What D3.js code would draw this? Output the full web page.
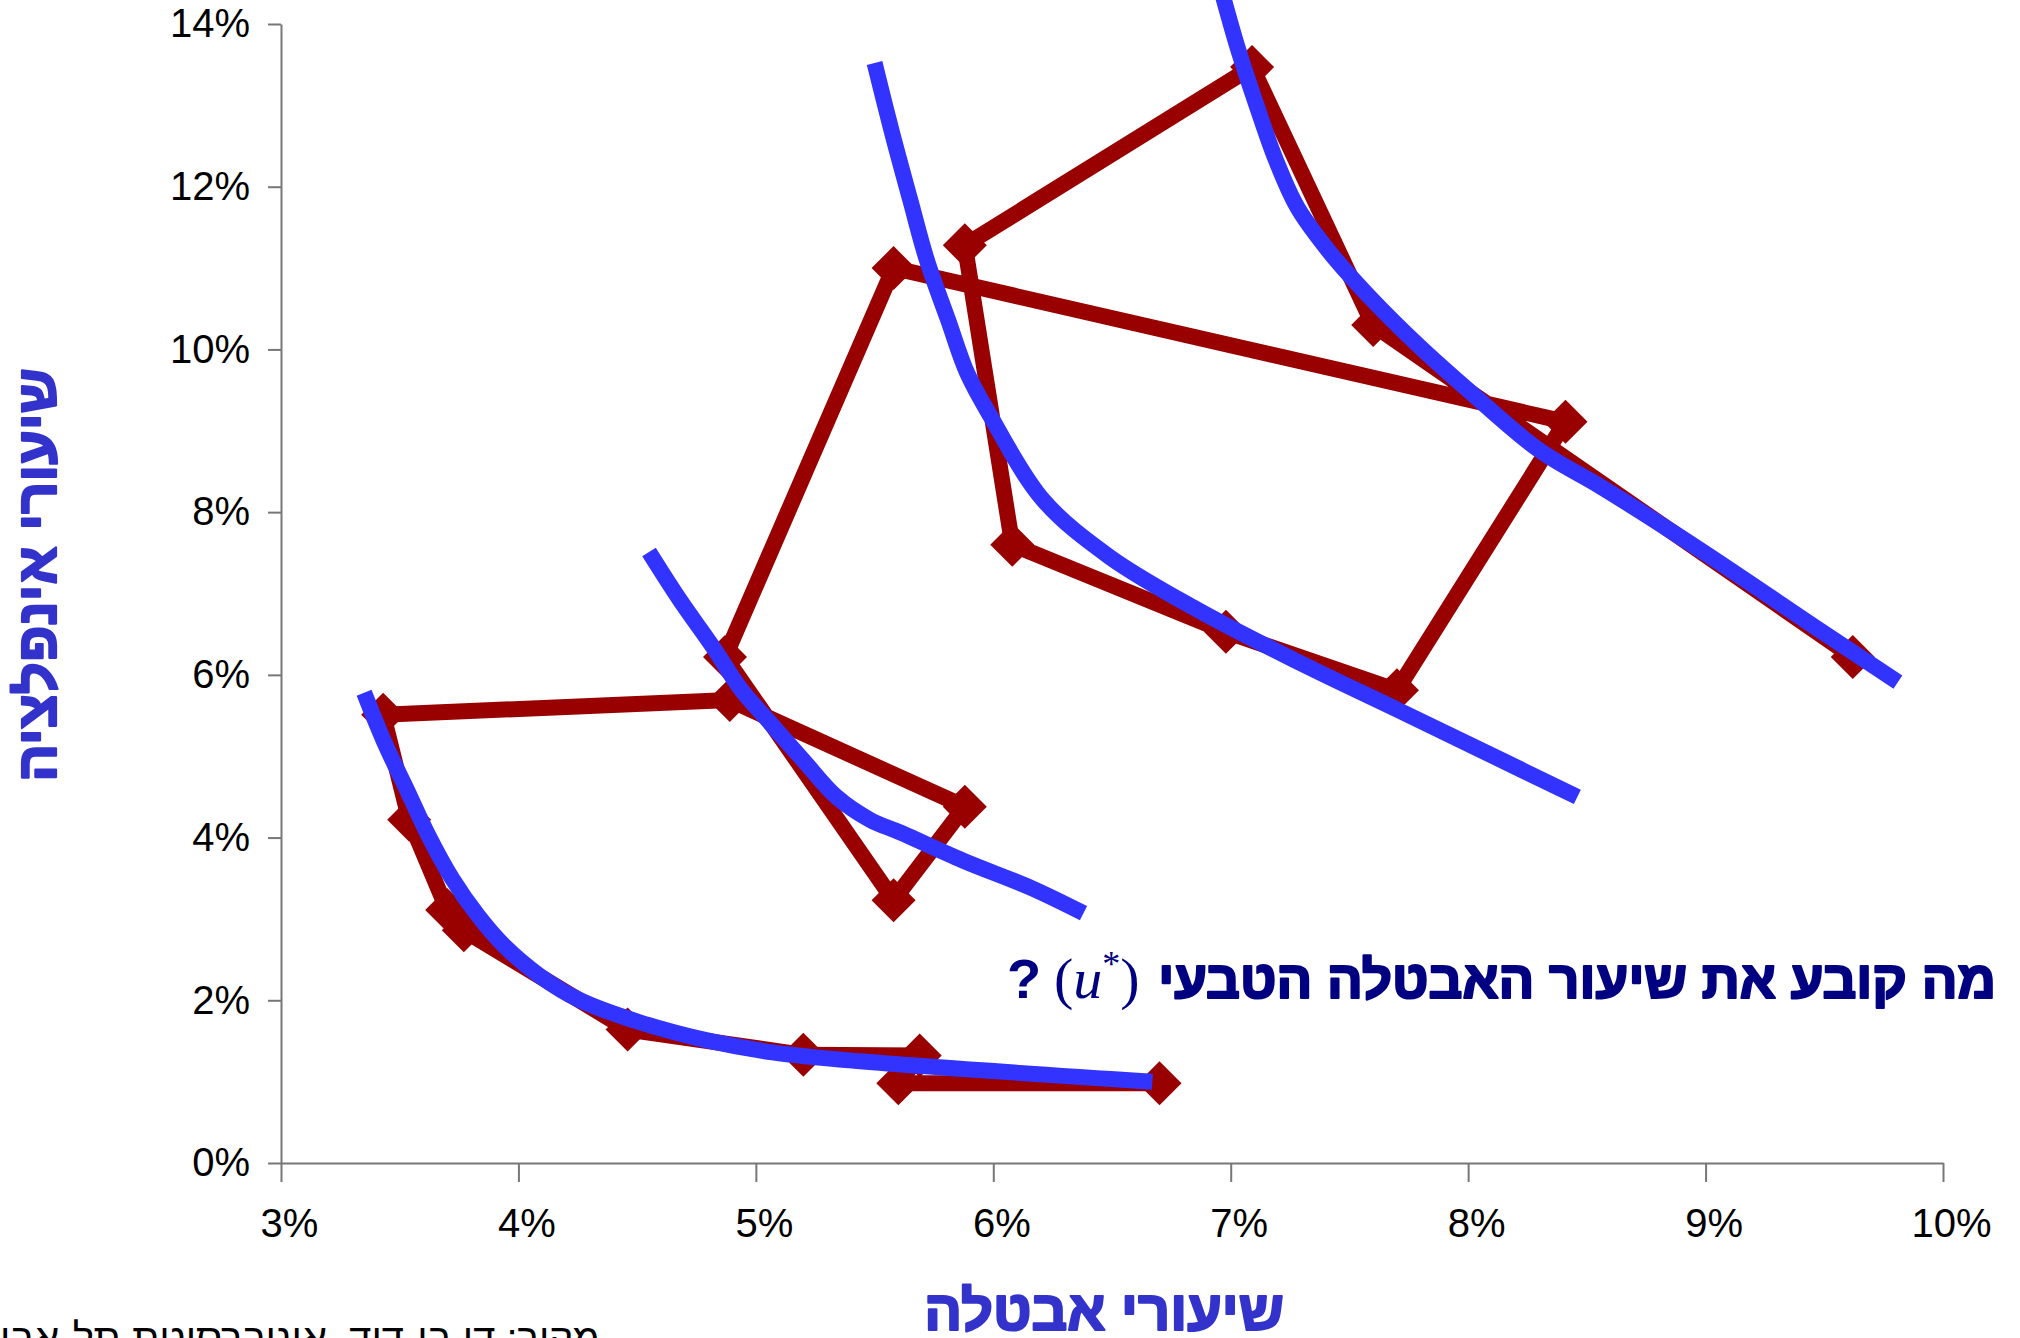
<!DOCTYPE html>
<html>
<head>
<meta charset="utf-8">
<script src="https://cdn.jsdelivr.net/npm/d3@7"></script>
<style>
  body { margin: 0; background: #fff; }
  svg { display: block; }
</style>
</head>
<body>
<svg id="chart" width="2020" height="1338"></svg>
<script>
// red series: one point per year, unemployment vs inflation (%)
var years = [1961, 1962, 1963, 1964, 1965, 1966, 1967, 1968, 1969, 1970, 1971,
             1972, 1973, 1974, 1975, 1976, 1977, 1978, 1979, 1980, 1981, 1982];
var unemployment = [6.70, 5.60, 5.69, 5.20, 4.46, 3.77, 3.70, 3.54, 3.43, 4.89, 5.88,
                    5.58, 4.87, 5.58, 8.41, 7.70, 6.98, 6.08, 5.88, 7.09, 7.60, 9.62];
var inflation = [0.98, 0.98, 1.32, 1.33, 1.64, 2.86, 3.11, 4.22, 5.51, 5.69, 4.38,
                 3.23, 6.22, 11.00, 9.11, 5.81, 6.53, 7.60, 11.28, 13.47, 10.30, 6.22];

// blue hand drawn curves, [unemployment, inflation]
var curve1 = [[3.35, 5.78], [3.44, 5.14], [3.53, 4.59], [3.62, 4.03], [3.72, 3.50], [3.83, 3.04],
              [3.94, 2.67], [4.09, 2.30], [4.26, 2.00], [4.51, 1.73], [4.79, 1.51], [5.07, 1.36],
              [5.44, 1.25], [6.67, 1.00]];
var curve2 = [[4.55, 7.51], [4.68, 6.92], [4.82, 6.34], [4.93, 5.85], [5.06, 5.41], [5.20, 4.95],
              [5.34, 4.50], [5.48, 4.22], [5.61, 4.06], [5.87, 3.72], [6.16, 3.38], [6.38, 3.07]];
var curve3 = [[5.50, 13.52], [5.574, 12.66], [5.65, 11.84], [5.72, 11.10], [5.81, 10.36], [5.89, 9.71],
              [5.99, 9.17], [6.21, 8.15], [6.49, 7.45], [6.86, 6.80], [7.29, 6.15], [7.71, 5.56],
              [8.46, 4.50]];
var curve4 = [[6.96, 14.42], [7.03, 13.70], [7.11, 12.99], [7.19, 12.33], [7.28, 11.75], [7.41, 11.22],
              [7.58, 10.66], [7.79, 10.05], [8.00, 9.50], [8.30, 8.76], [8.56, 8.31], [8.98, 7.53],
              [9.48, 6.55], [9.81, 5.91]];
var curves = [curve1, curve2, curve3, curve4];

var xTicks = [3, 4, 5, 6, 7, 8, 9, 10];
var yTicks = [0, 2, 4, 6, 8, 10, 12, 14];

var xTitle = 'שיעורי אבטלה';
var yTitle = 'שיעורי אינפלציה';
var question = 'מה קובע את שיעור האבטלה הטבעי';
var source = 'מקור: דן בן-דוד, אוניברסיטת תל-אביב';

var sans = '"Liberation Sans", Arial, sans-serif';
var red = '#990000', blue = '#3333ff', navy = '#000080', titleBlue = '#3333cc';

var svg = d3.select('#chart');
svg.append('rect').attr('width', 2020).attr('height', 1338).attr('fill', '#fff');

var x = d3.scaleLinear().domain([3, 10]).range([281, 1943]);
var y = d3.scaleLinear().domain([0, 14]).range([1163, 24]);

// axes
var yAxis = d3.axisLeft(y).tickValues(yTicks).tickSize(13).tickSizeOuter(0).tickPadding(18)
    .tickFormat(function (d) { return d + '%'; });
var xAxis = d3.axisBottom(x).tickValues(xTicks).tickSize(19).tickSizeOuter(0).tickPadding(27)
    .tickFormat(function (d) { return d + '%'; });

var gy = svg.append('g').attr('transform', 'translate(281,0)').call(yAxis);
var gx = svg.append('g').attr('transform', 'translate(0,1163)').call(xAxis);

[gx, gy].forEach(function (g) {
    g.selectAll('path, line').attr('stroke', '#777').attr('stroke-width', 2);
    g.selectAll('text').attr('font-family', sans).attr('font-size', 40).attr('fill', '#000');
});
gx.selectAll('text').attr('dx', 8);

// red year-by-year line
var pts = years.map(function (yr, i) { return [unemployment[i], inflation[i]]; });
var line = d3.line().x(function (d) { return x(d[0]); }).y(function (d) { return y(d[1]); });

svg.append('path')
    .attr('d', line(pts))
    .attr('fill', 'none')
    .attr('stroke', red)
    .attr('stroke-width', 16)
    .attr('stroke-linejoin', 'round');

svg.append('g').selectAll('path')
    .data(pts)
    .enter().append('path')
    .attr('d', d3.symbol().type(d3.symbolSquare).size(968))
    .attr('transform', function (d) { return 'translate(' + x(d[0]) + ',' + y(d[1]) + ') rotate(45)'; })
    .attr('fill', red);

// blue curves on top
var smooth = d3.line()
    .x(function (d) { return x(d[0]); })
    .y(function (d) { return y(d[1]); })
    .curve(d3.curveCatmullRom.alpha(0.5));

svg.append('g').selectAll('path')
    .data(curves)
    .enter().append('path')
    .attr('d', smooth)
    .attr('fill', 'none')
    .attr('stroke', blue)
    .attr('stroke-width', 16);

// hebrew bold is thin in the fallback font, so thicken with a stroke
function boldText(sel, colour) {
    return sel.attr('font-family', sans).attr('font-weight', 'bold')
        .attr('fill', colour).attr('stroke', colour).attr('stroke-width', 2.2)
        .attr('stroke-linejoin', 'round');
}

// titles
boldText(svg.append('text'), titleBlue)
    .attr('x', 1104).attr('y', 1330)
    .attr('text-anchor', 'middle')
    .attr('font-size', 56)
    .text(xTitle);

boldText(svg.append('text'), titleBlue)
    .attr('transform', 'translate(56,575) rotate(-90)')
    .attr('text-anchor', 'middle')
    .attr('font-size', 56)
    .text(yTitle);

// question
boldText(svg.append('text'), navy)
    .attr('x', 1996).attr('y', 998)
    .attr('text-anchor', 'end')
    .attr('font-size', 53)
    .text(question);

var ustar = svg.append('text')
    .attr('x', 1054).attr('y', 998)
    .attr('font-family', '"Liberation Serif", "Times New Roman", serif').attr('font-size', 58)
    .attr('fill', navy);
ustar.append('tspan').text('(');
ustar.append('tspan').attr('font-style', 'italic').text('u');
ustar.append('tspan').attr('font-size', 36).attr('dy', -22).text('*');
ustar.append('tspan').attr('dy', 22).text(')');

boldText(svg.append('text'), navy)
    .attr('x', 1007).attr('y', 998)
    .attr('font-size', 56)
    .attr('stroke-width', 0)
    .text('?');

// source note, cut by the bottom and left edges
svg.append('text')
    .attr('x', 600).attr('y', 1352)
    .attr('text-anchor', 'end')
    .attr('font-family', sans).attr('font-size', 40)
    .attr('fill', '#000')
    .text(source);
</script>
</body>
</html>
